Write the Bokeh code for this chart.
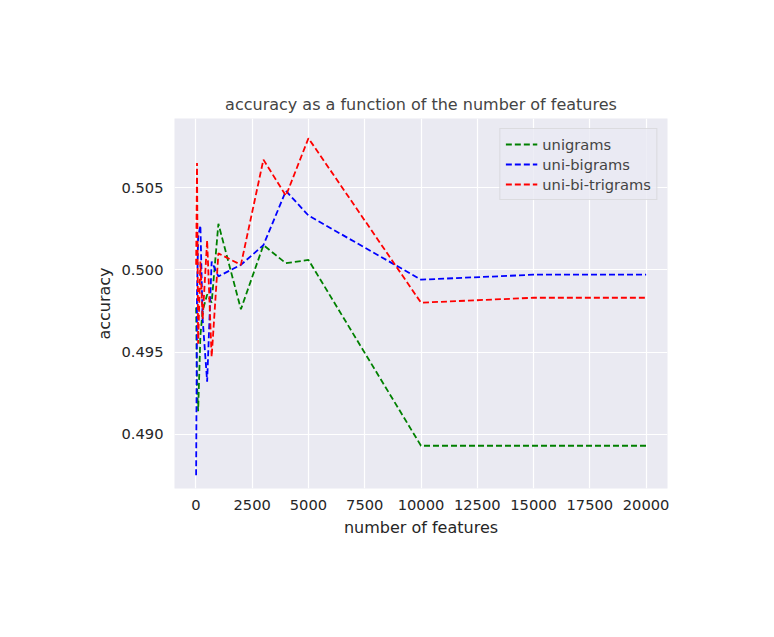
from bokeh.plotting import figure
from bokeh.models import Range1d, FixedTicker, PrintfTickFormatter
from bokeh.embed import file_html
from bokeh.resources import INLINE

n_features = [10, 50, 100, 200, 300, 500, 700, 1000, 2000, 3000, 4000, 5000, 10000, 15000, 20000]
unigrams = [0.4977, 0.4930, 0.4914, 0.4960, 0.4975, 0.4985, 0.4980, 0.5028, 0.4976, 0.5015, 0.5004, 0.5006, 0.4893, 0.4893, 0.4893]
uni_bigrams = [0.4875, 0.4985, 0.5020, 0.5027, 0.4970, 0.4932, 0.5005, 0.4996, 0.5003, 0.5015, 0.5048, 0.5033, 0.4994, 0.4997, 0.4997]
uni_bi_trigrams = [0.5003, 0.5065, 0.4955, 0.5005, 0.4970, 0.5018, 0.4947, 0.5010, 0.5003, 0.5067, 0.5045, 0.5080, 0.4980, 0.4983, 0.4983]

p = figure(width=758, height=621, output_backend="svg", toolbar_location=None,
           title="accuracy as a function of the number of features",
           x_range=Range1d(-950, 20950), y_range=Range1d(0.4867, 0.5092),
           min_border_left=174, min_border_right=91, min_border_top=118, min_border_bottom=133)
p.background_fill_color = "#EAEAF2"
p.border_fill_color = "white"
p.outline_line_color = None
p.grid.grid_line_color = "white"
p.grid.grid_line_width = 1.2
p.title.align = "center"
p.title.text_font = "DejaVu Sans"
p.title.text_font_size = "12pt"
p.title.text_font_style = "normal"
p.xaxis.ticker = FixedTicker(ticks=[0, 2500, 5000, 7500, 10000, 12500, 15000, 17500, 20000])
p.yaxis.ticker = FixedTicker(ticks=[0.490, 0.495, 0.500, 0.505])
p.yaxis.formatter = PrintfTickFormatter(format="%.3f")
for ax in (p.xaxis, p.yaxis):
    ax.axis_line_color = None
    ax.major_tick_line_color = None
    ax.minor_tick_line_color = None
    ax.major_label_text_font = "DejaVu Sans"
    ax.major_label_text_font_size = "11pt"
    ax.major_label_text_color = "#262626"
    ax.axis_label_text_font = "DejaVu Sans"
    ax.axis_label_text_font_size = "12pt"
    ax.axis_label_text_font_style = "normal"
    ax.axis_label_text_color = "#262626"
p.xaxis.axis_label = "number of features"
p.yaxis.axis_label = "accuracy"

for ys, color, name in [(unigrams, "green", "unigrams"),
                        (uni_bigrams, "blue", "uni-bigrams"),
                        (uni_bi_trigrams, "red", "uni-bi-trigrams")]:
    p.line(n_features, ys, color=color, line_width=1.8, line_dash="6 3", legend_label=name)

p.legend.location = "top_right"
p.legend.background_fill_color = "#EAEAF2"
p.legend.background_fill_alpha = 0.8
p.legend.border_line_color = "#CCCCCC"
p.legend.label_text_font = "DejaVu Sans"
p.legend.label_text_font_size = "11pt"
p.legend.glyph_width = 32
p.legend.spacing = 0
p.legend.padding = 5
p.legend.label_height = 16

open("out.html", "w").write(file_html(p, INLINE))
